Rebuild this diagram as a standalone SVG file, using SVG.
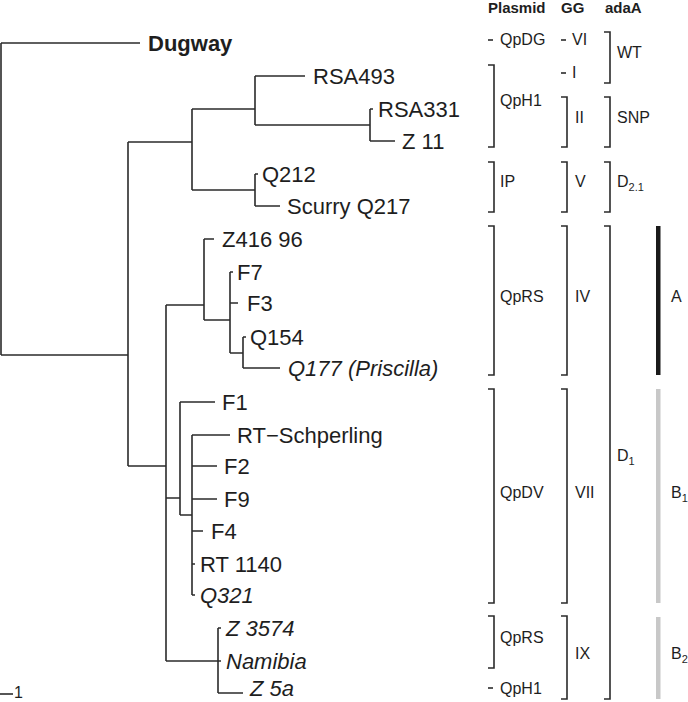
<svg xmlns="http://www.w3.org/2000/svg" width="688" height="702" viewBox="0 0 688 702">
<style>
.br{fill:none;stroke:#2b2b2b;stroke-width:1.6}
.lf{font-family:"Liberation Sans",Arial,sans-serif;font-size:22px;fill:#1e1e1e}
.it{font-style:italic}
.col{font-family:"Liberation Sans",Arial,sans-serif;font-size:16px;fill:#1e1e1e}
.hd{font-family:"Liberation Sans",Arial,sans-serif;font-size:15px;font-weight:bold;fill:#1e1e1e}
.sub{font-size:11px}
</style>
<rect width="688" height="702" fill="#fff"/>
<g id="connectors" class="br">
<path d="M1,43 V355 M1,43 H140 M1,355 H128"/>
<path d="M128,142 V466 M128,142 H192 M128,466 H166"/>
<path d="M192,109 V190 M192,109 H255 M192,190 H255"/>
<path d="M255,76 V125 M255,76 H305 M255,125 H370 M370,109 V141 M370,109 H373 M370,141 H395"/>
<path d="M255,174 V206 M255,174 H258 M255,206 H280"/>
<path d="M166,305 V661 M166,305 H204 M166,498 H180 M166,661 H218"/>
<path d="M204,239 V320 M204,239 H214 M204,320 H230"/>
<path d="M230,272 V353 M230,272 H233 M230,303 H238 M230,353 H243"/>
<path d="M243,337 V368 M243,337 H246 M243,368 H280"/>
<path d="M180,402 V515 M180,402 H215 M180,515 H192"/>
<path d="M192,435 V595 M192,435 H230 M192,466 H217 M192,499 H217 M192,531 H203 M192,564 H195 M192,595 H195"/>
<path d="M218,628 V693 M218,628 H221 M218,661 H221 M218,693 H243"/>
<path d="M0,694 H13"/>
</g>
<g id="leaves">
<g id="n-dugway"><text class="lf" x="148" y="51" font-weight="bold">Dugway</text></g>
<g id="n-rsa493"><text class="lf" x="313" y="84">RSA493</text></g>
<g id="n-rsa331"><text class="lf" x="378" y="117">RSA331</text></g>
<g id="n-z11"><text class="lf" x="402" y="149">Z 11</text></g>
<g id="n-q212"><text class="lf" x="262" y="182">Q212</text></g>
<g id="n-scurry"><text class="lf" x="287" y="214">Scurry Q217</text></g>
<g id="n-z41696"><text class="lf" x="222" y="247">Z416 96</text></g>
<g id="n-f7"><text class="lf" x="237" y="280">F7</text></g>
<g id="n-f3"><text class="lf" x="247" y="311">F3</text></g>
<g id="n-q154"><text class="lf" x="250" y="345">Q154</text></g>
<g id="n-q177"><text class="lf it" x="288" y="376">Q177 (Priscilla)</text></g>
<g id="n-f1"><text class="lf" x="222" y="410">F1</text></g>
<g id="n-rtsch"><text class="lf" x="237" y="443">RT−Schperling</text></g>
<g id="n-f2"><text class="lf" x="224" y="474">F2</text></g>
<g id="n-f9"><text class="lf" x="224" y="507">F9</text></g>
<g id="n-f4"><text class="lf" x="211" y="539">F4</text></g>
<g id="n-rt1140"><text class="lf" x="200" y="572">RT 1140</text></g>
<g id="n-q321"><text class="lf it" x="200" y="603">Q321</text></g>
<g id="n-z3574"><text class="lf it" x="226" y="636">Z 3574</text></g>
<g id="n-namibia"><text class="lf it" x="226" y="669">Namibia</text></g>
<g id="n-z5a"><text class="lf it" x="250" y="696">Z 5a</text></g>
<g id="scale"><text class="col" x="14" y="698" font-size="16">1</text></g>
</g>
<g id="headers">
<text class="hd" x="488" y="13">Plasmid</text>
<text class="hd" x="561" y="13">GG</text>
<text class="hd" x="605" y="13">adaA</text>
</g>
<g id="plasmid" >
<path class="br" d="M488,40 H493"/>
<text class="col" x="500" y="45">QpDG</text>
<path class="br" d="M488,65 H494 V147 H488"/>
<text class="col" x="500" y="106">QpH1</text>
<path class="br" d="M488,162 H494 V212 H488"/>
<text class="col" x="500" y="187">IP</text>
<path class="br" d="M488,226 H494 V375 H488"/>
<text class="col" x="500" y="302">QpRS</text>
<path class="br" d="M488,389 H494 V603 H488"/>
<text class="col" x="500" y="498">QpDV</text>
<path class="br" d="M488,616 H494 V668 H488"/>
<text class="col" x="500" y="643">QpRS</text>
<path class="br" d="M488,688 H493"/>
<text class="col" x="500" y="694">QpH1</text>
</g>
<g id="gg">
<path class="br" d="M561,40 H566"/>
<text class="col" x="572" y="45">VI</text>
<path class="br" d="M561,73 H566"/>
<text class="col" x="572" y="78">I</text>
<path class="br" d="M561,97 H567 V147 H561"/>
<text class="col" x="575" y="123">II</text>
<path class="br" d="M561,162 H567 V212 H561"/>
<text class="col" x="575" y="187">V</text>
<path class="br" d="M561,226 H567 V375 H561"/>
<text class="col" x="575" y="302">IV</text>
<path class="br" d="M561,389 H567 V603 H561"/>
<text class="col" x="575" y="498">VII</text>
<path class="br" d="M561,616 H567 V699 H561"/>
<text class="col" x="575" y="659">IX</text>
</g>
<g id="adaA">
<path class="br" d="M604,32 H610 V83 H604"/>
<text class="col" x="617" y="58">WT</text>
<path class="br" d="M604,97 H610 V147 H604"/>
<text class="col" x="617" y="123">SNP</text>
<path class="br" d="M604,162 H610 V212 H604"/>
<text class="col" x="617" y="187">D<tspan class="sub" dy="4">2.1</tspan></text>
<path class="br" d="M604,226 H610 V699 H604"/>
<text class="col" x="617" y="461">D<tspan class="sub" dy="4">1</tspan></text>
</g>
<g id="bars">
<rect x="656" y="226" width="4.5" height="149" fill="#1a1a1a"/>
<text class="col" x="671" y="302">A</text>
<rect x="656" y="389" width="4.5" height="214" fill="#c8c8c8"/>
<text class="col" x="671" y="498">B<tspan class="sub" dy="4">1</tspan></text>
<rect x="656" y="617" width="4.5" height="82" fill="#c8c8c8"/>
<text class="col" x="671" y="659">B<tspan class="sub" dy="4">2</tspan></text>
</g>
</svg>
